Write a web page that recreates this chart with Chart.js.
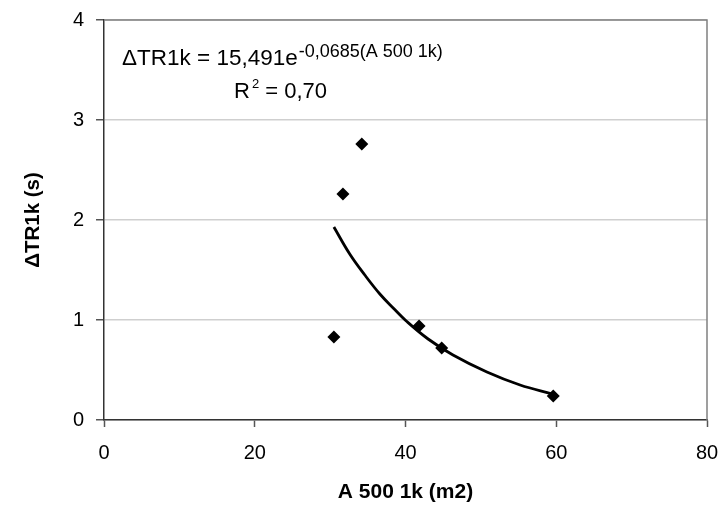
<!DOCTYPE html>
<html>
<head>
<meta charset="utf-8">
<script src="https://cdn.jsdelivr.net/npm/chart.js@4.4.0/dist/chart.umd.min.js"></script>
<style>
  html, body { margin: 0; padding: 0; background: #fff; }
</style>
</head>
<body>
<canvas id="grafico" width="723" height="511"></canvas>
<script>
// pontos medidos
const areaA500 = [30.5, 31.7, 34.2, 41.8, 44.8, 59.6];
const deltaTR1k = [0.83, 2.26, 2.76, 0.94, 0.72, 0.24];

// linha de tendencia
const tendX = [30.5, 32.6, 34.6, 36.6, 38.5, 40.1, 43.0, 46.3, 50.8, 55.2, 59.5];
const tendY = [1.93, 1.66, 1.45, 1.26, 1.11, 0.99, 0.81, 0.65, 0.48, 0.35, 0.26];

const ticksX = [0, 20, 40, 60, 80];
const ticksY = [0, 1, 2, 3, 4];

const fonte = "'Liberation Sans', Arial, sans-serif";

const pontos = areaA500.map((x, i) => ({ x: x, y: deltaTR1k[i] }));
const tendencia = tendX.map((x, i) => ({ x: x, y: tendY[i] }));

// borda cinza em cima e a direita + texto da equacao
const extras = {
  id: 'extras',
  beforeDatasetsDraw(chart) {
    const a = chart.chartArea;
    const c = chart.ctx;
    c.save();
    c.strokeStyle = '#808080';
    c.lineWidth = 1.5;
    c.beginPath();
    c.moveTo(a.left, a.top);
    c.lineTo(a.right, a.top);
    c.lineTo(a.right, a.bottom);
    c.stroke();
    c.restore();
  },
  afterDraw(chart) {
    const a = chart.chartArea;
    const c = chart.ctx;
    c.save();
    c.fillStyle = '#000';
    c.textBaseline = 'alphabetic';
    c.textAlign = 'left';
    c.font = '22.5px ' + fonte;
    const t1 = 'ΔTR1k = 15,491e';
    const x1 = a.left + 18;
    c.fillText(t1, x1, a.top + 44.5);
    const w1 = c.measureText(t1).width;
    c.font = '18px ' + fonte;
    c.fillText('-0,0685(A 500 1k)', x1 + w1 + 1, a.top + 36.5);

    c.font = '22px ' + fonte;
    const x2 = a.left + 130;
    c.fillText('R', x2, a.top + 77.5);
    const wr = c.measureText('R').width;
    c.font = '13px ' + fonte;
    c.fillText('2', x2 + wr + 2, a.top + 68);
    const w2 = c.measureText('2').width;
    c.font = '22px ' + fonte;
    c.fillText(' = 0,70', x2 + wr + w2 + 2, a.top + 77.5);
    c.restore();
  }
};

new Chart(document.getElementById('grafico'), {
  type: 'scatter',
  data: {
    datasets: [
      {
        label: 'tendencia',
        data: tendencia,
        showLine: true,
        borderColor: '#000',
        borderWidth: 2.8,
        pointRadius: 0,
        tension: 0.4,
        fill: false
      },
      {
        label: 'dados',
        data: pontos,
        pointStyle: 'rectRot',
        pointRadius: 6.5,
        pointBackgroundColor: '#000',
        pointBorderColor: '#000',
        borderWidth: 0
      }
    ]
  },
  plugins: [extras],
  options: {
    responsive: false,
    animation: false,
    devicePixelRatio: 1,
    layout: { padding: { top: 20, right: 16, left: 0, bottom: 0 } },
    plugins: {
      legend: { display: false },
      tooltip: { enabled: false }
    },
    scales: {
      x: {
        type: 'linear',
        min: 0,
        max: 80,
        afterBuildTicks: s => { s.ticks = ticksX.map(v => ({ value: v })); },
        afterFit: s => {
          s.height = 91;
          s.paddingLeft = 0;
          s.paddingRight = 0;
        },
        grid: {
          drawOnChartArea: false,
          tickLength: 7,
          tickColor: '#555',
          tickWidth: 1.5
        },
        border: { color: '#333', width: 1.5 },
        ticks: {
          color: '#000',
          font: { family: fonte, size: 20 },
          padding: 14,
          maxRotation: 0
        },
        title: {
          display: true,
          text: 'A 500 1k (m2)',
          color: '#000',
          font: { family: fonte, size: 21, weight: 'bold' },
          padding: { top: 0, bottom: 6 }
        }
      },
      y: {
        type: 'linear',
        min: 0,
        max: 4,
        afterBuildTicks: s => { s.ticks = ticksY.map(v => ({ value: v })); },
        afterFit: s => {
          s.width = 104;
          s.paddingTop = 0;
          s.paddingBottom = 0;
        },
        grid: {
          color: '#cfcfcf',
          lineWidth: 1.5,
          tickLength: 8,
          tickColor: '#555',
          tickWidth: 1.5
        },
        border: { color: '#333', width: 1.5 },
        ticks: {
          color: '#000',
          font: { family: fonte, size: 20 },
          padding: 12
        },
        title: {
          display: true,
          text: 'ΔTR1k (s)',
          color: '#000',
          font: { family: fonte, size: 20.5, weight: 'bold' },
          padding: { top: 21, bottom: 0 }
        }
      }
    }
  }
});
</script>
</body>
</html>
